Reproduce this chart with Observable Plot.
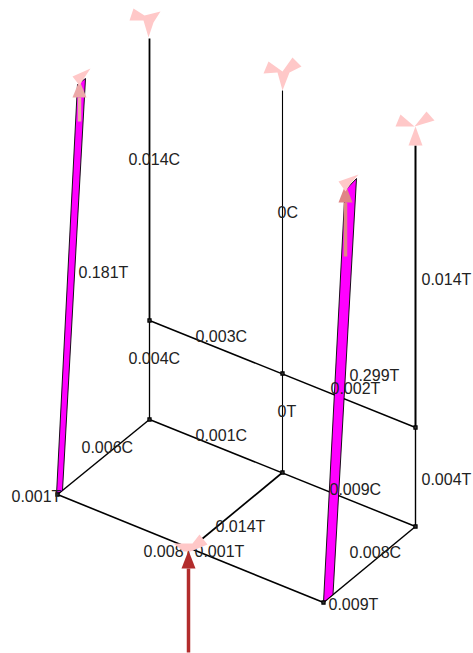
<!DOCTYPE html>
<html>
<head>
<meta charset="utf-8">
<style>html,body{margin:0;padding:0;background:#fff}svg{display:block}</style>
<script src="https://cdn.jsdelivr.net/npm/d3@7"></script>
<script src="https://cdn.jsdelivr.net/npm/@observablehq/plot@0.6"></script>
</head>
<body>
<div id="chart"></div>
<script>
// Structure joints in drawing units
const jointNames = ["A","B","Bm","C","Cm","D","Dm","E","F","Bt","Ct","Dt"];
const jointX = [57,149,149,282,282,415,415,323,190,149,282,415];
const jointY = [494,419,320,472,373,526,427,602,548,38,90,145];

const memberFrom  = ["A","A","B","Bm","D","F","B","Bm","C","Cm","D","Dm"];
const memberTo    = ["B","E","D","Dm","E","C","Bm","Bt","Cm","Ct","Dm","Dt"];
const memberWidth = [1.5,1.6,1.5,1.5,1.5,1.7,1.3,1.8,1.1,1.1,1.4,2];

const squareNodes = ["A","B","Bm","C","Cm","D","Dm","E"];

const labelText = ["0.014C","0.181T","0.004C","0.003C","0.299T","0.002T","0.014T","0C","0T","0.006C","0.001C","0.009C","0.004T","0.008C","0.009T","0.014T","0.008T","0.001T","0.001T"];
const labelX = [128,78,128,195,349,330,421,277,277,81,195,329,421,349,328,215,143,194,11];
const labelY = [159,272,358,336,375,388,279,212,411,447,435,489,479,552,604,526,551,551,496];

// Forces in the two heavily loaded columns
const bandLeftX  = [56,62,85,77];
const bandLeftY  = [494,490,78,84];
const bandRightX = [323,332.5,356,344.5];
const bandRightY = [602,594,178,190];

// Support reaction petals, as closed outlines of x,y pairs
const petals = [
  [133,8,144,15,160,11,153,22,148,37,143,20,129,20],
  [268,61,282,71,292,57,301,66,289,72,282,90,277,72,263,73],
  [400,114,395,126,414,126],[426,111,434,120,414,126],[408,145,422,145,415,126],
  [72,76,90,68,84,77,79,85],
  [338,181,358,174,351,182,345,191],
  [173,543,192,543,199,534,207,544,190,551,183,551]
];

// Load arrows: shaft from tail to base of head, head apex
const arrowX     = [188,79,345];
const arrowTail  = [652,121,256];
const arrowBase  = [568,97,202];
const arrowTip   = [550,80,184];
const arrowHalf  = [7,7,7];
const arrowColor = ["#b22c2c","#eca8a8","#e08585"];
const arrowWidth = [3.5,3.5,3.5];

const jointIdx = Object.fromEntries(jointNames.map((n,i)=>[n,i]));
const members = memberFrom.map((f,i)=>({
  x1: jointX[jointIdx[f]], y1: jointY[jointIdx[f]],
  x2: jointX[jointIdx[memberTo[i]]], y2: jointY[jointIdx[memberTo[i]]],
  w: memberWidth[i]
}));
const nodes = squareNodes.map(n=>({x:jointX[jointIdx[n]],y:jointY[jointIdx[n]]}));
const labels = labelText.map((t,i)=>({t,x:labelX[i],y:labelY[i]}));
const band = (xs,ys,z)=>xs.concat(xs[0]).map((x,i)=>({x,y:ys.concat(ys[0])[i],z}));
const bands = [...band(bandLeftX,bandLeftY,"l"),...band(bandRightX,bandRightY,"r")];
const petalPts = petals.flatMap((p,k)=>{
  const pts=[]; for(let j=0;j<p.length;j+=2) pts.push({x:p[j],y:p[j+1],z:k});
  pts.push({...pts[0]}); return pts;
});
const arrows = arrowX.map((x,i)=>({x,tail:arrowTail[i],base:arrowBase[i],tip:arrowTip[i],half:arrowHalf[i],c:arrowColor[i],w:arrowWidth[i]}));

const arrowMark = a=>[
  Plot.link([a],{x1:"x",x2:"x",y1:"tail",y2:"base",stroke:a.c,strokeWidth:a.w}),
  Plot.line([[a.x-a.half,a.base],[a.x+a.half,a.base],[a.x,a.tip],[a.x-a.half,a.base]],
    {x:d=>d[0],y:d=>d[1],fill:a.c,stroke:"none"})
];

const chart = Plot.plot({
  width:473,height:653,
  marginTop:0,marginRight:0,marginBottom:0,marginLeft:0,
  x:{domain:[0,473],range:[0,473],axis:null},
  y:{domain:[0,653],range:[0,653],axis:null},
  style:{background:"#fff"},
  marks:[
    ...members.map(m=>Plot.link([m],{x1:"x1",y1:"y1",x2:"x2",y2:"y2",stroke:"#000",strokeWidth:m.w})),
    Plot.line(bands,{x:"x",y:"y",z:"z",fill:"#ff00ff",stroke:"#000",strokeWidth:0.9,curve:"linear"}),
    Plot.dot(nodes,{x:"x",y:"y",symbol:"square",r:1.8,fill:"#333",stroke:"#000",strokeWidth:1.1}),
    Plot.text(labels,{x:"x",y:"y",text:"t",textAnchor:"start",lineAnchor:"middle",fontSize:16,fontFamily:"Liberation Sans",fill:"#222"}),
    // Pink arrows sit beneath the petals; the main arrow sits above them.
    ...arrowMark(arrows[1]),
    ...arrowMark(arrows[2]),
    Plot.line(petalPts,{x:"x",y:"y",z:"z",fill:"#ffc8c8",stroke:"none",curve:"linear"}),
    ...arrowMark(arrows[0])
  ]
});
document.getElementById("chart").appendChild(chart);
</script>
</body>
</html>
